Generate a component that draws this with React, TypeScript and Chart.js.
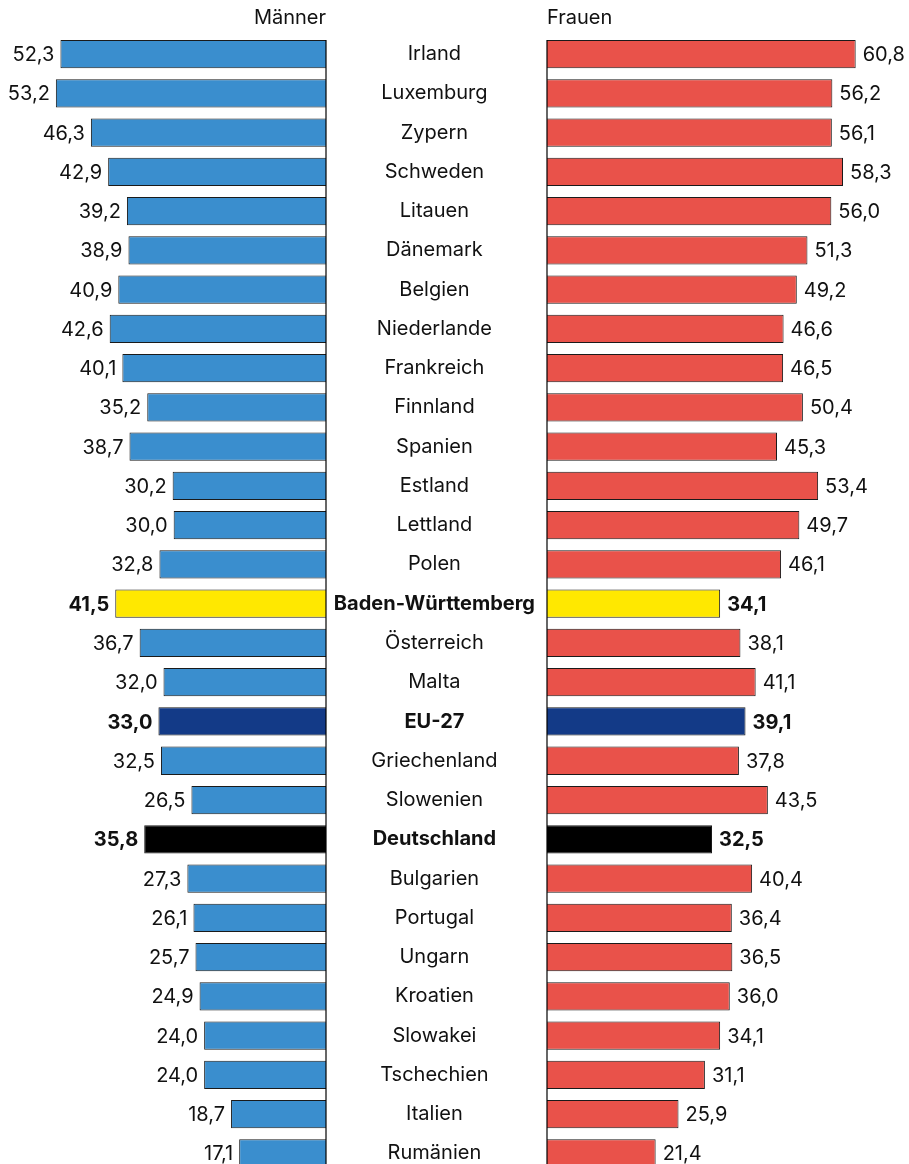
import React, { useEffect, useRef } from "react";
import { Chart, registerables } from "chart.js";

Chart.register(...registerables);

const countries = [
  "Irland", "Luxemburg", "Zypern", "Schweden", "Litauen", "Dänemark", "Belgien",
  "Niederlande", "Frankreich", "Finnland", "Spanien", "Estland", "Lettland", "Polen",
  "Baden-Württemberg", "Österreich", "Malta", "EU-27", "Griechenland", "Slowenien",
  "Deutschland", "Bulgarien", "Portugal", "Ungarn", "Kroatien", "Slowakei",
  "Tschechien", "Italien", "Rumänien",
];

const maenner = [
  52.3, 53.2, 46.3, 42.9, 39.2, 38.9, 40.9, 42.6, 40.1, 35.2, 38.7, 30.2, 30.0, 32.8,
  41.5, 36.7, 32.0, 33.0, 32.5, 26.5, 35.8, 27.3, 26.1, 25.7, 24.9, 24.0, 24.0, 18.7, 17.1,
];

const frauen = [
  60.8, 56.2, 56.1, 58.3, 56.0, 51.3, 49.2, 46.6, 46.5, 50.4, 45.3, 53.4, 49.7, 46.1,
  34.1, 38.1, 41.1, 39.1, 37.8, 43.5, 32.5, 40.4, 36.4, 36.5, 36.0, 34.1, 31.1, 25.9, 21.4,
];

const highlightColors: Record<string, string> = {
  "Baden-Württemberg": "#FFE800",
  "EU-27": "#133A87",
  "Deutschland": "#000000",
};

const FONT = "Inter, 'DejaVu Sans', sans-serif";
const FONT_SIZE = 20;
const MEN_COLOR = "#3A8ECE";
const WOMEN_COLOR = "#E9524A";

const fmt = (v: number) => v.toFixed(1).replace(".", ",");
const isBold = (i: number) => countries[i] in highlightColors;

function makePlugin(side: "left" | "right") {
  return {
    id: "decor" + side,
    afterDatasetsDraw(chart: any) {
      const { ctx, chartArea } = chart;
      const meta = chart.getDatasetMeta(0);
      const data = chart.data.datasets[0].data as number[];
      ctx.save();
      const first = meta.data[0] as any;
      const top = first.y - first.height / 2;
      const x = side === "left" ? chartArea.right : chartArea.left;
      ctx.strokeStyle = "#000";
      ctx.lineWidth = 1.2;
      ctx.beginPath();
      ctx.moveTo(x, top);
      ctx.lineTo(x, chart.height);
      ctx.stroke();
      ctx.fillStyle = "#111";
      ctx.textBaseline = "middle";
      meta.data.forEach((bar: any, i: number) => {
        ctx.font = `${isBold(i) ? "bold " : ""}${FONT_SIZE}px ${FONT}`;
        if (side === "left") {
          ctx.textAlign = "right";
          ctx.fillText(fmt(data[i]), bar.x - 6, bar.y + 1);
        } else {
          ctx.textAlign = "left";
          ctx.fillText(fmt(data[i]), bar.x + 7, bar.y + 1);
        }
      });
      ctx.restore();
    },
  };
}

function colorsFor(base: string) {
  return countries.map((c) => highlightColors[c] ?? base);
}

export default function App() {
  const leftRef = useRef<HTMLCanvasElement>(null);
  const rightRef = useRef<HTMLCanvasElement>(null);

  useEffect(() => {
    const common = {
      indexAxis: "y" as const,
      responsive: false,
      animation: false as const,
      maintainAspectRatio: false,
    };
    const titleFont = { family: FONT, size: FONT_SIZE, weight: "normal", lineHeight: 1.2 };
    const left = new Chart(leftRef.current!, {
      type: "bar",
      data: {
        labels: countries,
        datasets: [
          {
            data: maenner,
            backgroundColor: colorsFor(MEN_COLOR),
            borderColor: "#1a1a1a",
            borderWidth: 1,
            barPercentage: 0.72,
            categoryPercentage: 1,
          },
        ],
      },
      options: {
        ...common,
        layout: { padding: { left: 0, right: 1, top: 0, bottom: 0 } },
        plugins: {
          legend: { display: false },
          tooltip: { enabled: false },
          title: {
            display: true,
            text: "Männer",
            align: "end",
            fullSize: false,
            color: "#111",
            font: titleFont,
            padding: { top: 6, bottom: 4.4 },
          },
        },
        scales: {
          x: { reverse: true, min: 0, max: 64.2, display: false },
          y: { display: false },
        },
      },
      plugins: [makePlugin("left")],
    });

    const right = new Chart(rightRef.current!, {
      type: "bar",
      data: {
        labels: countries,
        datasets: [
          {
            data: frauen,
            backgroundColor: colorsFor(WOMEN_COLOR),
            borderColor: "#1a1a1a",
            borderWidth: 1,
            barPercentage: 0.72,
            categoryPercentage: 1,
          },
        ],
      },
      options: {
        ...common,
        layout: { padding: 0 },
        plugins: {
          legend: { display: false },
          tooltip: { enabled: false },
          title: {
            display: true,
            text: "Frauen",
            align: "start",
            fullSize: false,
            color: "#111",
            font: titleFont,
            padding: { top: 6, bottom: 4.4 },
          },
        },
        scales: {
          x: { min: 0, max: 71.3, display: false },
          y: {
            afterFit: (scale: any) => {
              scale.width = 220;
              scale.paddingTop = 0;
              scale.paddingBottom = 0;
            },
            grid: { display: false, drawTicks: false },
            border: { display: false },
            ticks: {
              crossAlign: "center",
              padding: 12,
              color: "#111",
              autoSkip: false,
              font: (c: any) => ({
                family: FONT,
                size: FONT_SIZE,
                weight: isBold(c.index) ? "bold" : "normal",
              }),
            },
          },
        },
      },
      plugins: [makePlugin("right")],
    });

    return () => {
      left.destroy();
      right.destroy();
    };
  }, []);

  return (
    <div
      style={{
        position: "absolute",
        left: 0,
        top: 0,
        width: 909,
        height: 1164,
        overflow: "hidden",
        background: "#fff",
      }}
    >
      <canvas
        ref={leftRef}
        width={327}
        height={1173}
        style={{ position: "absolute", left: 0, top: 0, width: 327, height: 1173 }}
      />
      <canvas
        ref={rightRef}
        width={582}
        height={1173}
        style={{ position: "absolute", left: 327, top: 0, width: 582, height: 1173 }}
      />
    </div>
  );
}
